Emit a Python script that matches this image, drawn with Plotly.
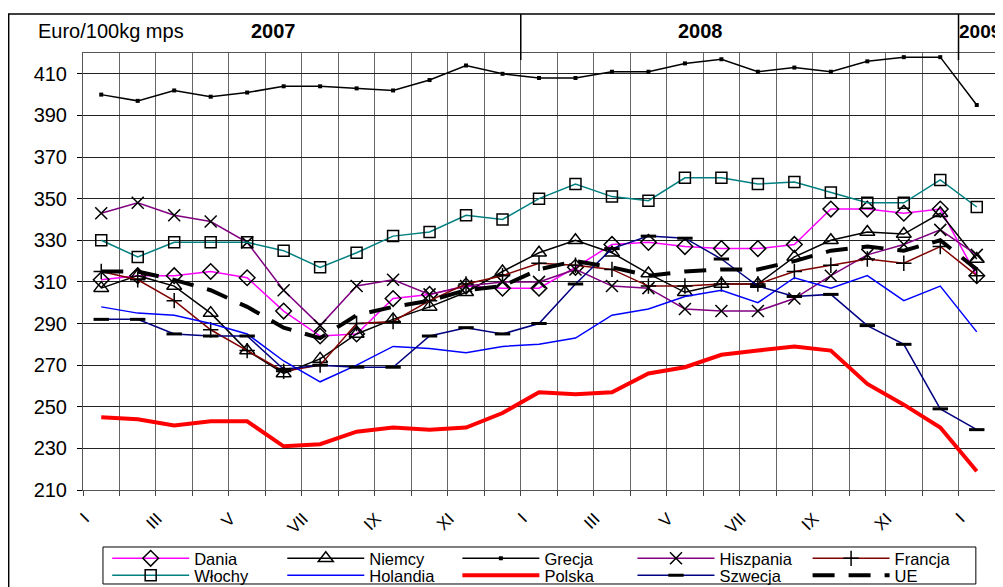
import plotly.graph_objects as go

# months Jan 2007 .. Jan 2009
months = ["I", "II", "III", "IV", "V", "VI", "VII", "VIII", "IX", "X", "XI", "XII",
          "I", "II", "III", "IV", "V", "VI", "VII", "VIII", "IX", "X", "XI", "XII", "I"]
years = [2007] * 12 + [2008] * 12 + [2009]

dania = [311, 313, 313, 315, 312, 296, 284, 285, 302, 304, 308, 307, 307,
         317, 328, 329, 327, 326, 326, 328, 345, 345, 343, 345, 313]
niemcy = [307, 313, 308, 295, 277, 266, 273, 285, 292, 298, 305, 315, 324,
          330, 324, 314, 305, 309, 309, 322, 330, 334, 333, 343, 321]
grecja = [400, 397, 402, 399, 401, 404, 404, 403, 402, 407, 414, 410, 408,
          408, 411, 411, 415, 417, 411, 413, 411, 416, 418, 418, 395]
hiszpania = [343, 348, 342, 339, 329, 306, 289, 308, 311, 304, 308, 310, 310,
             316, 308, 307, 297, 296, 296, 302, 313, 323, 328, 335, 323]
francja = [315, 311, 301, 287, 277, 267, 270, 290, 291, 301, 309, 313, 319,
           318, 316, 308, 308, 309, 309, 315, 318, 321, 319, 327, 313]
wlochy = [330, 322, 329, 329, 329, 325, 317, 324, 332, 334, 342, 340, 350,
          357, 351, 349, 360, 360, 357, 358, 353, 348, 348, 359, 346]
holandia = [298, 295, 294, 290, 285, 272, 262, 270, 279, 278, 276, 279, 280,
            283, 294, 297, 303, 306, 300, 312, 307, 313, 301, 308, 286]
polska = [245, 244, 241, 243, 243, 231, 232, 238, 240, 239, 240, 247, 257,
          256, 257, 266, 269, 275, 277, 279, 277, 261, 251, 240, 219]
szwecja = [292, 292, 285, 284, 284, 268, 270, 269, 269, 284, 288, 285, 290,
           309, 326, 332, 331, 321, 308, 303, 304, 289, 280, 249, 239]
ue = [315, 315, 311, 306, 298, 288, 283, 294, 298, 301, 306, 308, 316,
      320, 317, 313, 315, 316, 316, 320, 325, 327, 325, 330, 316]

x = list(range(len(months)))
FONT = "Liberation Sans, Arial, sans-serif"

fig = go.Figure()


def add_series(name, y, color, legend, width=1.5, symbol=None, msize=10, mwidth=1.5, dash=None):
    mode = "lines+markers" if symbol else "lines"
    marker = dict(symbol=symbol, size=msize, color="black", line=dict(width=mwidth, color="black")) if symbol else None
    fig.add_trace(go.Scatter(
        x=x, y=y, name=name, mode=mode, legend=legend,
        line=dict(color=color, width=width, dash=dash),
        marker=marker
    ))


# first legend row
add_series("Dania", dania, "#ff00ff", "legend", symbol="diamond-open", msize=12)
add_series("Niemcy", niemcy, "black", "legend", symbol="triangle-up-open", msize=13)
add_series("Grecja", grecja, "black", "legend", symbol="square", msize=4, mwidth=0)
add_series("Hiszpania", hiszpania, "#800080", "legend", symbol="x-thin-open", msize=12)
add_series("Francja", francja, "#800000", "legend", symbol="cross-thin-open", msize=11)
# second legend row
add_series("Włochy", wlochy, "#008080", "legend2", symbol="square-open", msize=11)
add_series("Holandia", holandia, "#0000ff", "legend2")
add_series("Polska", polska, "#ff0000", "legend2", width=4)
add_series("Szwecja", szwecja, "#000080", "legend2", symbol="line-ew-open", msize=11, mwidth=3)
add_series("UE", ue, "black", "legend2", width=4, dash="22px,14px")

# year boundaries in the header
bounds = [i - 0.5 for i in range(1, len(years)) if years[i] != years[i - 1]]
for b in bounds:
    fig.add_shape(type="line", xref="x", yref="paper", x0=b, x1=b, y0=0.984, y1=1.089,
                  line=dict(color="black", width=1.5))

# outer frame
fig.add_shape(type="rect", xref="paper", yref="paper", x0=-0.0815, x1=1.03, y0=-0.3, y1=1.089,
              line=dict(color="black", width=1.5), layer="below")
# legend frame (both legend rows share one box)
fig.add_shape(type="rect", xref="paper", yref="paper", x0=0.0219, x1=0.979, y0=-0.2151, y1=-0.1304,
              line=dict(color="black", width=1), fillcolor="white", layer="below")

fig.add_annotation(text="Euro/100kg mps", xref="paper", yref="paper", x=-0.051, y=1.050,
                   xanchor="left", yanchor="middle", showarrow=False,
                   font=dict(family=FONT, size=20, color="black"))
year_pos = {2007: (4.71, "center", 20), 2008: (16.44, "center", 20), 2009: (23.46, "left", 19)}
for yr, (px, anchor, fs) in year_pos.items():
    fig.add_annotation(text=f"<b>{yr}</b>", xref="x", yref="paper", x=px, y=1.050,
                       xanchor=anchor, yanchor="middle", showarrow=False,
                       font=dict(family=FONT, size=fs, color="black"))

fig.update_xaxes(
    range=[-0.5, len(months) - 0.5],
    tickmode="array", tickvals=x[::2], ticktext=months[::2], tickangle=-45,
    ticks="", showgrid=False, ticklabelshift=-17, ticklabelstandoff=11,
    tickfont=dict(family=FONT, size=17, color="black"),
    showline=True, linecolor="#555", linewidth=1, mirror=True,
    minor=dict(tickmode="linear", tick0=-0.5, dtick=1, showgrid=True, gridcolor="#666",
               gridwidth=1, ticks="outside", ticklen=5, tickcolor="#444"),
    zeroline=False,
)
fig.update_yaxes(
    range=[210, 420], tickmode="linear", tick0=210, dtick=20,
    showgrid=True, gridcolor="#222", gridwidth=1,
    ticks="outside", ticklen=5, tickcolor="black", ticklabelstandoff=6,
    tickfont=dict(family=FONT, size=20, color="black"),
    showline=True, linecolor="#555", linewidth=1, mirror=True,
    zeroline=False,
)

legend_style = dict(
    orientation="h", x=0.0265, xanchor="left", yanchor="middle",
    borderwidth=0, bgcolor="rgba(0,0,0,0)",
    font=dict(family=FONT, size=16.5, color="black"),
    entrywidthmode="fraction", entrywidth=0.192, itemwidth=77, tracegroupgap=0,
)

# page body adds an 8px margin, so the figure is 8px smaller and the margins shifted
fig.update_layout(
    width=995, height=579,
    margin=dict(l=75, r=8, t=45, b=97, autoexpand=False),
    paper_bgcolor="white", plot_bgcolor="white",
    font=dict(family=FONT, color="black"),
    legend=dict(legend_style, y=-0.157),
    legend2=dict(legend_style, y=-0.1955),
)

fig.write_html("out.html")
